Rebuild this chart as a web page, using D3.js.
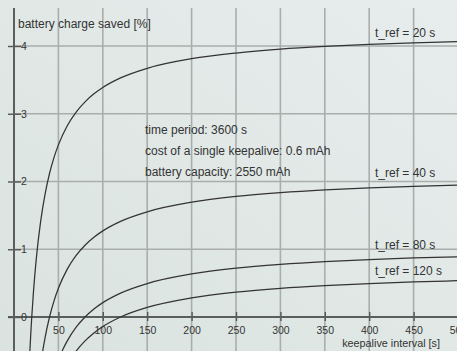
<!DOCTYPE html>
<html><head><meta charset="utf-8">
<script src="https://cdn.jsdelivr.net/npm/d3@7"></script>
<style>
html,body{margin:0;padding:0;background:#dfe7e4;overflow:hidden}
svg{display:block}
text{font-family:"Liberation Sans",Arial,sans-serif;fill:#333}
</style></head>
<body>
<svg id="c" width="457" height="351"></svg>
<script>
// ---- data ----
const xTicks = [50,100,150,200,250,300,350,400,450,500];
const yTicks = [0,1,2,3,4];
const seriesNames = ["t_ref = 20 s","t_ref = 40 s","t_ref = 80 s","t_ref = 120 s"];
const tref20x = [17,18,19,20,22,25,30,35,40,45,50,60,70,80,90,100,120,150,200,250,300,350,400,450,500,520];
const tref20y = [-0.747,-0.471,-0.223,0,0.385,0.847,1.412,1.815,2.118,2.353,2.541,2.824,3.025,3.176,3.294,3.388,3.529,3.671,3.812,3.896,3.953,3.993,4.024,4.047,4.066,4.072];
const tref40x = [30,32,35,40,45,50,60,70,80,90,100,120,150,200,250,300,350,400,450,500,520];
const tref40y = [-0.706,-0.530,-0.303,0,0.235,0.424,0.706,0.908,1.059,1.176,1.271,1.412,1.553,1.694,1.779,1.835,1.876,1.906,1.929,1.948,1.955];
const tref80x = [50,55,60,70,80,90,100,120,150,200,250,300,350,400,450,500,520];
const tref80y = [-0.635,-0.481,-0.353,-0.151,0,0.118,0.212,0.353,0.494,0.635,0.720,0.776,0.817,0.847,0.871,0.889,0.896];
const tref120x = [60,65,70,80,90,100,120,150,200,250,300,350,400,450,500,520];
const tref120y = [-0.706,-0.597,-0.504,-0.353,-0.235,-0.141,0,0.141,0.282,0.367,0.424,0.464,0.494,0.518,0.536,0.543];
const notes = ["time period: 3600 s","cost of a single keepalive: 0.6 mAh","battery capacity: 2550 mAh"];
const yLabel = "battery charge saved [%]";
const xLabel = "keepalive interval [s]";

const svg = d3.select("#c");
const W = 457, H = 351;
const x = d3.scaleLinear().domain([0,500]).range([14,458]);
const y = d3.scaleLinear().domain([0,4]).range([317,46]);
const topY = 8;

// background
const defs = svg.append("defs");
const lg = defs.append("linearGradient").attr("id","bg").attr("x1","0").attr("y1","1").attr("x2","1").attr("y2","0");
lg.append("stop").attr("offset","0").attr("stop-color","#dae3df");
lg.append("stop").attr("offset","1").attr("stop-color","#e7eded");
svg.append("rect").attr("width",W).attr("height",H).attr("fill","url(#bg)");
defs.append("clipPath").attr("id","clip").append("rect").attr("x",14).attr("y",topY).attr("width",W-14).attr("height",H-topY);

// grid
const g = svg.append("g");
g.selectAll(".vg").data(xTicks).join("line")
  .attr("x1",d=>x(d)).attr("x2",d=>x(d)).attr("y1",topY).attr("y2",H)
  .attr("stroke","#a9aeac").attr("stroke-width",1.6);
g.selectAll(".hg").data(yTicks.filter(d=>d!==0)).join("line")
  .attr("x1",14).attr("x2",W).attr("y1",d=>y(d)).attr("y2",d=>y(d))
  .attr("stroke","#a9aeac").attr("stroke-width",1.6);

// axes
const xAxis = d3.axisBottom(x).tickValues(xTicks).tickSize(0).tickPadding(10);
const xg = svg.append("g").attr("transform",`translate(0,${y(0)})`).call(xAxis);
xg.select(".domain").remove();
xg.selectAll(".tick text").style("font-size","10.5px").attr("fill","#444").attr("font-family","Liberation Sans, Arial, sans-serif");
xg.selectAll(".tick").append("line").attr("y1",-5).attr("y2",4).attr("stroke","#555").attr("stroke-width",1.4);
svg.append("line").attr("x1",8).attr("x2",W).attr("y1",y(0)).attr("y2",y(0)).attr("stroke","#5a5e5c").attr("stroke-width",2);

const yAxis = d3.axisRight(y).tickValues(yTicks).tickFormat(d3.format("d")).tickSize(0).tickPadding(7);
const yg = svg.append("g").attr("transform",`translate(${x(0)},0)`).call(yAxis);
yg.select(".domain").remove();
yg.selectAll(".tick text").style("font-size","10.5px").attr("fill","#444").attr("font-family","Liberation Sans, Arial, sans-serif");
yg.selectAll(".tick").append("line").attr("x1",-6).attr("x2",7).attr("stroke","#555").attr("stroke-width",1.4);
svg.append("line").attr("x1",x(0)).attr("x2",x(0)).attr("y1",topY).attr("y2",H).attr("stroke","#5a5e5c").attr("stroke-width",2);

// curves
const line = d3.line().x(d=>x(d[0])).y(d=>y(d[1])).curve(d3.curveMonotoneX);
const series = [[tref20x,tref20y],[tref40x,tref40y],[tref80x,tref80y],[tref120x,tref120y]];
svg.append("g").attr("clip-path","url(#clip)").selectAll("path").data(series).join("path")
  .attr("d",s=>line(s[0].map((v,i)=>[v,s[1][i]])))
  .attr("fill","none").attr("stroke","#333").attr("stroke-width",1.25);

// labels
const labelPos = [[375,37],[375,177],[375,249],[375,275]];
svg.selectAll(".sl").data(seriesNames).join("text")
  .attr("x",(d,i)=>labelPos[i][0]).attr("y",(d,i)=>labelPos[i][1])
  .style("font-size","12px").text(d=>d);
svg.selectAll(".nt").data(notes).join("text")
  .attr("x",145).attr("y",(d,i)=>134+i*21).style("font-size","12px").text(d=>d);
svg.append("text").attr("x",18).attr("y",28).style("font-size","12px").text(yLabel);
svg.append("text").attr("x",440).attr("y",347).attr("text-anchor","end").style("font-size","10.8px").text(xLabel);
</script>
</body></html>
